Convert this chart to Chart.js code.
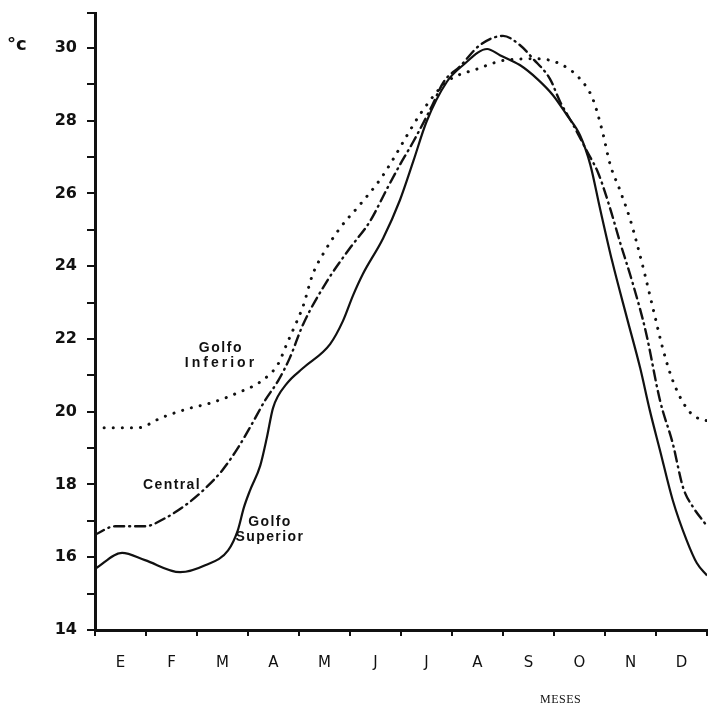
<!DOCTYPE html>
<html>
<head>
<meta charset="utf-8">
<script src="https://cdn.jsdelivr.net/npm/chart.js@4/dist/chart.umd.min.js"></script>
<style>
  html, body { margin: 0; padding: 0; background: #fff; }
  #wrap { width: 708px; height: 711px; position: relative; }
</style>
</head>
<body>
<div id="wrap"><canvas id="c" width="708" height="711"></canvas></div>
<script>
// Month labels (Spanish initials) and y tick labels
const months = ['E', 'F', 'M', 'A', 'M', 'J', 'J', 'A', 'S', 'O', 'N', 'D'];
const yTickLabels = [14, 16, 18, 20, 22, 24, 26, 28, 30];

// Golfo Superior (solid)
const supX = [0.0, 0.53, 0.98, 1.67, 2.16, 2.61, 2.80, 2.92, 3.04, 3.24, 3.37, 3.49, 3.76, 4.08, 4.61, 4.86, 5.06, 5.25, 5.65, 5.98, 6.24, 6.5, 6.9, 7.22, 7.69, 7.94, 8.33, 8.67, 8.98, 9.25, 9.51, 9.71, 9.9, 10.14, 10.43, 10.69, 10.88, 11.08, 11.33, 11.6, 11.8, 12.0];
const supY = [15.68, 16.12, 15.92, 15.59, 15.78, 16.19, 16.74, 17.37, 17.84, 18.52, 19.29, 20.1, 20.77, 21.2, 21.86, 22.49, 23.2, 23.78, 24.77, 25.82, 26.88, 27.97, 29.07, 29.53, 29.97, 29.8, 29.53, 29.15, 28.7, 28.16, 27.6, 26.8, 25.6, 24.14, 22.58, 21.2, 20.03, 18.93, 17.56, 16.47, 15.84, 15.5];

// Central (dash-dot)
const cenX = [0.0, 0.39, 0.98, 1.37, 1.82, 2.16, 2.49, 2.8, 3.08, 3.33, 3.59, 3.82, 4.08, 4.55, 5.0, 5.39, 5.73, 5.98, 6.24, 6.57, 6.84, 7.16, 7.55, 8.0, 8.33, 8.59, 8.92, 9.12, 9.37, 9.65, 9.87, 10.1, 10.29, 10.55, 10.8, 11.08, 11.33, 11.53, 11.73, 11.96];
const cenY = [16.62, 16.85, 16.85, 17.07, 17.48, 17.89, 18.38, 19.0, 19.67, 20.3, 20.85, 21.48, 22.4, 23.59, 24.5, 25.23, 26.14, 26.79, 27.42, 28.3, 29.07, 29.5, 30.08, 30.33, 30.08, 29.7, 29.15, 28.52, 27.9, 27.15, 26.55, 25.59, 24.68, 23.5, 22.2, 20.3, 19.12, 17.92, 17.37, 16.93];

// Golfo Inferior (dotted)
const infX = [0.0, 0.84, 1.31, 1.82, 2.29, 2.8, 3.27, 3.59, 3.76, 3.96, 4.08, 4.27, 4.47, 4.8, 5.2, 5.6, 5.85, 6.12, 6.41, 6.9, 7.49, 8.08, 8.67, 9.12, 9.51, 9.76, 9.95, 10.1, 10.29, 10.49, 10.63, 10.78, 10.94, 11.14, 11.33, 11.6, 11.8, 12.0];
const infY = [19.56, 19.56, 19.84, 20.08, 20.25, 20.52, 20.85, 21.31, 21.86, 22.49, 22.9, 23.78, 24.33, 25.04, 25.7, 26.4, 26.95, 27.6, 28.25, 29.07, 29.42, 29.67, 29.7, 29.56, 29.15, 28.6, 27.7, 26.8, 26.1, 25.3, 24.6, 23.78, 22.85, 21.7, 20.85, 20.1, 19.84, 19.75];

const toPts = (xs, ys) => xs.map((x, i) => ({ x: x, y: ys[i] }));

// Text annotations anchored in data coordinates
const notes = [
  { lines: ['Golfo', 'Inferior'], spacing: ['1.6px', '3px'], x: 2.47, y: 21.75 },
  { lines: ['Central'], spacing: ['1.4px'], x: 1.51, y: 17.97 },
  { lines: ['Golfo', 'Superior'], spacing: ['1.4px', '1.4px'], x: 3.43, y: 16.96 }
];

const textPlugin = {
  id: 'texts',
  afterDraw(chart) {
    const ctx = chart.ctx;
    const xs = chart.scales.x, ys = chart.scales.y;
    ctx.save();
    ctx.fillStyle = '#111';
    ctx.textAlign = 'center';
    ctx.textBaseline = 'middle';
    ctx.font = 'bold 14px "Liberation Sans", Arial, sans-serif';
    notes.forEach(n => {
      const px = xs.getPixelForValue(n.x);
      const py = ys.getPixelForValue(n.y);
      n.lines.forEach((t, i) => {
        try { ctx.letterSpacing = n.spacing[i]; } catch (e) {}
        ctx.fillText(t, px, py + i * 15);
      });
    });
    // unit label
    try { ctx.letterSpacing = '0px'; } catch (e) {}
    ctx.textAlign = 'left';
    ctx.font = 'bold 18px "DejaVu Sans", sans-serif';
    ctx.fillText('°c', 7, ys.getPixelForValue(30) - 3);
    // axis title
    ctx.font = '12px "Liberation Serif", "Times New Roman", serif';
    try { ctx.letterSpacing = '0.5px'; } catch (e) {}
    ctx.fillText('MESES', 540, 700);
    ctx.restore();
  }
};

new Chart(document.getElementById('c'), {
  type: 'line',
  data: {
    datasets: [
      {
        label: 'Golfo Superior',
        data: toPts(supX, supY),
        borderColor: '#111', borderWidth: 2.2,
        pointRadius: 0, cubicInterpolationMode: 'monotone', fill: false
      },
      {
        label: 'Central',
        data: toPts(cenX, cenY),
        borderColor: '#111', borderWidth: 2.4,
        borderDash: [10, 5, 1, 5], borderCapStyle: 'round',
        pointRadius: 0, cubicInterpolationMode: 'monotone', fill: false
      },
      {
        label: 'Golfo Inferior',
        data: toPts(infX, infY),
        borderColor: '#111', borderWidth: 3,
        borderDash: [0.1, 9], borderCapStyle: 'round',
        pointRadius: 0, cubicInterpolationMode: 'monotone', fill: false
      }
    ]
  },
  options: {
    responsive: false,
    animation: false,
    layout: { padding: { top: 13, right: 1, left: 0, bottom: 0 } },
    plugins: { legend: { display: false }, tooltip: { enabled: false } },
    scales: {
      x: {
        type: 'linear', min: 0, max: 12,
        afterFit(s) { s.height = 81; s.paddingLeft = 0; s.paddingRight = 0; },
        border: { display: true, color: '#111', width: 3 },
        grid: { drawOnChartArea: false, drawTicks: true, tickLength: 6, color: '#111', lineWidth: 2 },
        ticks: {
          stepSize: 1, autoSkip: false, maxRotation: 0,
          labelOffset: 25.5, padding: 18, color: '#111',
          font: { family: '"DejaVu Sans", sans-serif', size: 15 },
          callback: (v) => months[v] !== undefined ? months[v] : ''
        }
      },
      y: {
        type: 'linear', min: 14, max: 30.96,
        afterFit(s) { s.width = 95; s.paddingTop = 0; s.paddingBottom = 0; },
        border: { display: true, color: '#111', width: 3 },
        grid: { drawOnChartArea: false, drawTicks: true, tickLength: 8, color: '#111', lineWidth: 2 },
        ticks: {
          stepSize: 1, autoSkip: false, padding: 10, color: '#111',
          font: { family: '"DejaVu Sans", sans-serif', size: 16, weight: 'bold' },
          callback: (v) => yTickLabels.includes(v) ? String(v) : ''
        }
      }
    }
  },
  plugins: [textPlugin]
});
</script>
</body>
</html>
